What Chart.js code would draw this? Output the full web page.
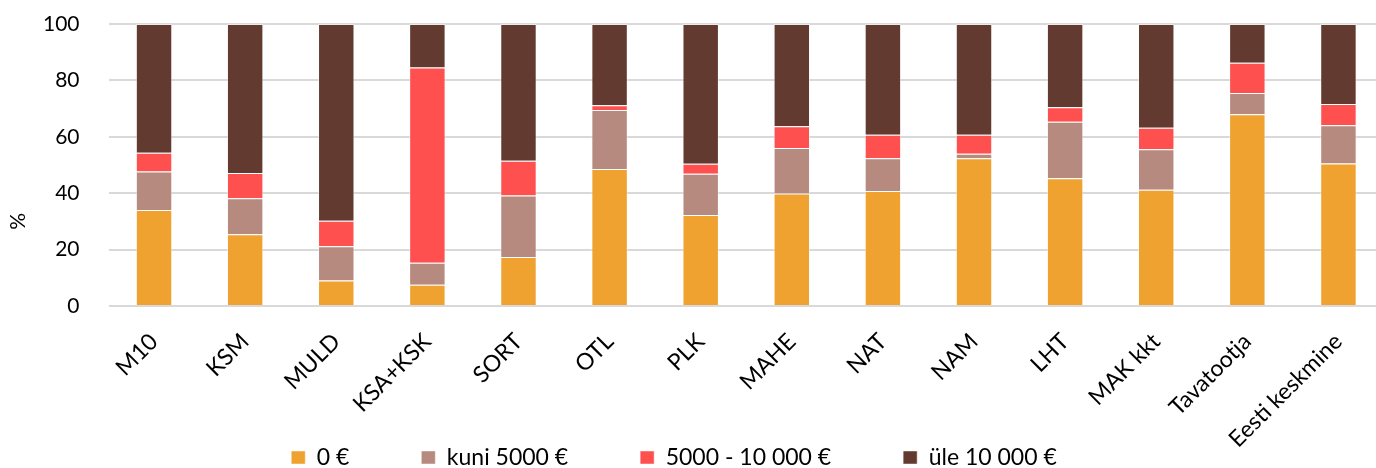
<!DOCTYPE html>
<html lang="et">
<head>
    <meta charset="UTF-8">
    <title>Toetused</title>
    <script src="https://cdn.jsdelivr.net/npm/chart.js@4.4.1/dist/chart.umd.min.js"></script>
    <style>
        html, body { margin: 0; padding: 0; background: #fff; overflow: hidden; }
        #wrap { width: 1384px; height: 468px; }
    </style>
</head>
<body>
    <div id="wrap"><canvas id="myChart"></canvas></div>
    <script>
        // kategooriad
        var categories = ['M10', 'KSM', 'MULD', 'KSA+KSK', 'SORT', 'OTL', 'PLK', 'MAHE', 'NAT', 'NAM', 'LHT', 'MAK kkt', 'Tavatootja', 'Eesti keskmine'];
        var yTicks = [0, 20, 40, 60, 80, 100];

        // seeriad (%)
        var zero     = [34.0, 25.4,  9.0,  7.5, 17.4, 48.6, 32.3, 39.9, 40.8, 52.4, 45.3, 41.2, 68.0, 50.5];
        var kuni5000 = [13.7, 12.8, 12.2,  7.8, 21.8, 20.9, 14.6, 16.1, 11.6,  1.6, 20.0, 14.4,  7.5, 13.6];
        var to10000  = [ 6.6,  9.0,  9.0, 69.3, 12.3,  1.7,  3.5,  7.7,  8.3,  6.7,  5.2,  7.6, 10.8,  7.5];
        var over10000 = [45.7, 52.8, 69.8, 15.4, 48.5, 28.8, 49.6, 36.3, 39.3, 39.3, 29.5, 36.8, 13.7, 28.4];

        Chart.defaults.font.family = 'Lato';
        Chart.defaults.color = '#000';

        function ds(label, data, color) {
            return {
                label: label,
                data: data,
                backgroundColor: color,
                borderColor: 'rgba(255,255,255,0.45)',
                borderWidth: 1,
                categoryPercentage: 1,
                barPercentage: 0.4
            };
        }

        // % pealkiri on exceli graafikus keskelt allpool
        var yTitle = '%' + '\u00A0'.repeat(21);

        // legend veidi vasakule nagu excelis
        var legendShift = {
            id: 'legendShift',
            afterLayout: function (chart) {
                chart.legend.left -= 18;
                chart.legend.right -= 18;
            }
        };

        var ctx = document.getElementById('myChart').getContext('2d');
        var myChart = new Chart(ctx, {
            type: 'bar',
            data: {
                labels: categories,
                datasets: [
                    ds('0 €', zero, '#EFA22F'),
                    ds('kuni 5000 €', kuni5000, '#B68A7E'),
                    ds('5000 - 10 000 €', to10000, '#FF5050'),
                    ds('üle 10 000 €', over10000, '#633A2F')
                ]
            },
            options: {
                responsive: true,
                maintainAspectRatio: false,
                animation: false,
                layout: { padding: { top: 24, left: 0, right: 0, bottom: 0 } },
                plugins: {
                    tooltip: { enabled: false },
                    legend: {
                        position: 'bottom',
                        maxHeight: 94,
                        labels: {
                            boxWidth: 14,
                            boxHeight: 13,
                            padding: 72,
                            font: { size: 23 }
                        }
                    }
                },
                scales: {
                    x: {
                        stacked: true,
                        grid: { display: false, drawTicks: false },
                        border: { display: false },
                        ticks: { minRotation: 45, maxRotation: 45, padding: 22, font: { size: 23 } },
                        afterFit: function (scale) {
                            scale.height = 68;
                            scale.paddingLeft = 0;
                            scale.paddingRight = 0;
                            // pikad sildid ulatuvad legendi kõrvale, ära lõika
                            scale._computeLabelArea = function () { return undefined; };
                        }
                    },
                    y: {
                        stacked: true,
                        min: 0,
                        max: 100,
                        afterBuildTicks: function (scale) {
                            scale.ticks = yTicks.map(function (v) { return { value: v }; });
                        },
                        grid: { color: '#D9D9D9', lineWidth: 2, drawTicks: false },
                        border: { display: false },
                        ticks: { padding: 29, font: { size: 21 } },
                        title: { display: true, text: yTitle, font: { size: 21 }, padding: { top: 6, bottom: 0 } },
                        afterFit: function (scale) {
                            scale.width = 108.5;
                            scale.paddingTop = 0;
                            scale.paddingBottom = 0;
                        }
                    }
                }
            },
            plugins: [legendShift]
        });
    </script>
</body>
</html>
